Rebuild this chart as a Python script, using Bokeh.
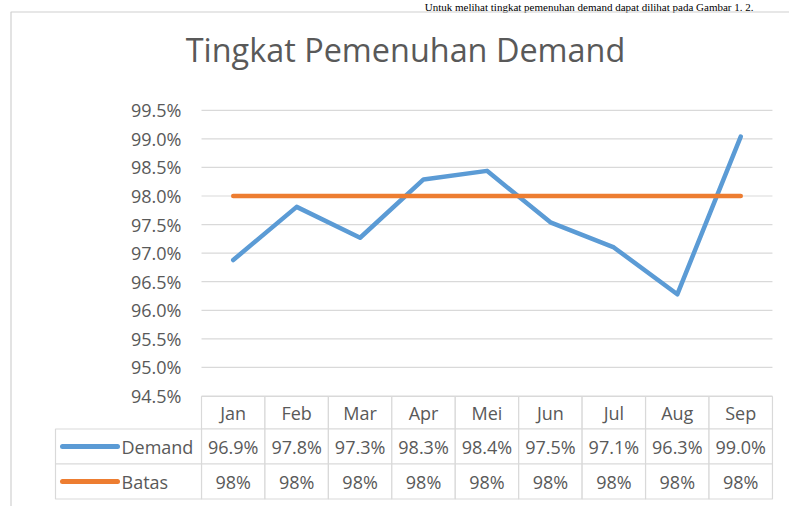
from bokeh.plotting import figure
from bokeh.models import Range1d
from bokeh.core.properties import value
from bokeh.embed import file_html
from bokeh.resources import INLINE

# ---- data ----
months = ["Jan", "Feb", "Mar", "Apr", "Mei", "Jun", "Jul", "Aug", "Sep"]
demand = [96.88, 97.81, 97.27, 98.29, 98.44, 97.54, 97.10, 96.28, 99.04]
batas = [98.0, 98.0, 98.0, 98.0, 98.0, 98.0, 98.0, 98.0, 98.0]
y_ticks = [94.5, 95.0, 95.5, 96.0, 96.5, 97.0, 97.5, 98.0, 98.5, 99.0, 99.5]
series_names = ["Demand", "Batas"]
chart_title = "Tingkat Pemenuhan Demand"
doc_sentence = "Untuk melihat tingkat pemenuhan demand dapat dilihat pada Gambar 1. 2."

# ---- layout constants (pixels) ----
W, H = 789, 506
X0_PX = 201.0        # px of left edge of first month column
COL_PX = 63.44       # width of one month column
Y0_PX = 395.5        # px (from top) of the 94.5% gridline
PCT_PX = 57.14       # px per one percentage point
TBL_TOP = 396.0      # px of table top
HDR_H, ROW_H = 32.5, 35.0
LEG_PX = 146.0       # legend column width

FONT = value("Open Sans")
TXT = "#595959"
GRID = "#D9D9D9"
BLUE = "#5B9BD5"
ORANGE = "#ED7D31"

n = len(months)
x_range = Range1d(-X0_PX / COL_PX, (W - X0_PX) / COL_PX)
y_range = Range1d(94.5 - (H - Y0_PX) / PCT_PX, 94.5 + Y0_PX / PCT_PX)

p = figure(width=W, height=H, x_range=x_range, y_range=y_range,
           output_backend="svg", toolbar_location=None,
           x_axis_type=None, y_axis_type=None,
           min_border=0, outline_line_color=None)
p.grid.visible = False
p.background_fill_color = "white"
p.border_fill_color = "white"
# table range: 1 unit = 1 px, 0 at table top, negative downwards
p.extra_y_ranges = {"tbl": Range1d(-(H - TBL_TOP), TBL_TOP)}


def px2x(px):
    return x_range.start + px / COL_PX


def px2y(py):
    return y_range.end - py / PCT_PX


# document sentence above the chart
p.text(x=[px2x(753)], y=[px2y(6.5)], text=[doc_sentence],
       text_font=value("Liberation Serif"), text_font_size="11px",
       text_color="black", text_align="right", text_baseline="middle")

# outer chart border (left and top edges visible)
bx = px2x(10.5)
by = px2y(11.5)
p.line(x=[bx, bx, x_range.end + 1], y=[y_range.start - 1, by, by],
       line_color="#D0D0D0", line_width=1.2)

# title
p.text(x=[px2x(405)], y=[px2y(48)], text=[chart_title],
       text_font=FONT, text_font_size="32.4px", text_color=TXT,
       text_align="center", text_baseline="middle")

# gridlines + y tick labels
p.segment(x0=[0] * len(y_ticks), x1=[n] * len(y_ticks), y0=y_ticks, y1=y_ticks,
          line_color=GRID, line_width=1.2)
p.text(x=[0] * len(y_ticks), y=y_ticks, text=[f"{t:.1f}%" for t in y_ticks],
       x_offset=-20, text_font=FONT, text_font_size="18px", text_color=TXT,
       text_align="right", text_baseline="middle")

# series lines
xs = [i + 0.5 for i in range(n)]
p.line(x=xs, y=demand, line_color=BLUE, line_width=4.5,
       line_cap="round", line_join="round")
p.line(x=xs, y=batas, line_color=ORANGE, line_width=4.5,
       line_cap="round", line_join="round")

# ---- data table ----
hdr_y = -HDR_H / 2
row_y = [-HDR_H - ROW_H / 2, -HDR_H - ROW_H * 1.5]
leg_w = LEG_PX / COL_PX

p.rect(x=xs, y=[hdr_y] * n, width=1, height=HDR_H, y_range_name="tbl",
       fill_color="white", line_color=GRID, line_width=1.2)
for ry in row_y:
    p.rect(x=xs, y=[ry] * n, width=1, height=ROW_H, y_range_name="tbl",
           fill_color="white", line_color=GRID, line_width=1.2)
p.rect(x=[-leg_w / 2] * 2, y=row_y, width=leg_w, height=ROW_H,
       y_range_name="tbl", fill_color="white", line_color=GRID, line_width=1.2)

txt_kw = dict(y_range_name="tbl", text_font=FONT, text_font_size="18px",
              text_color=TXT, text_baseline="middle")
p.text(x=xs, y=[hdr_y] * n, text=months, text_align="center", **txt_kw)
p.text(x=xs, y=[row_y[0]] * n, text=[f"{v:.1f}%" for v in demand],
       text_align="center", **txt_kw)
p.text(x=xs, y=[row_y[1]] * n, text=[f"{v:.0f}%" for v in batas],
       text_align="center", **txt_kw)

# legend keys and names
kx0 = -leg_w + 7 / COL_PX
kx1 = -leg_w + 62 / COL_PX
p.segment(x0=[kx0, kx0], x1=[kx1, kx1], y0=row_y, y1=row_y,
          y_range_name="tbl", line_color=[BLUE, ORANGE], line_width=5,
          line_cap="round")
p.text(x=[-leg_w + 66 / COL_PX] * 2, y=row_y, text=series_names,
       text_align="left", **txt_kw)

open("out.html", "w").write(file_html(p, INLINE))
